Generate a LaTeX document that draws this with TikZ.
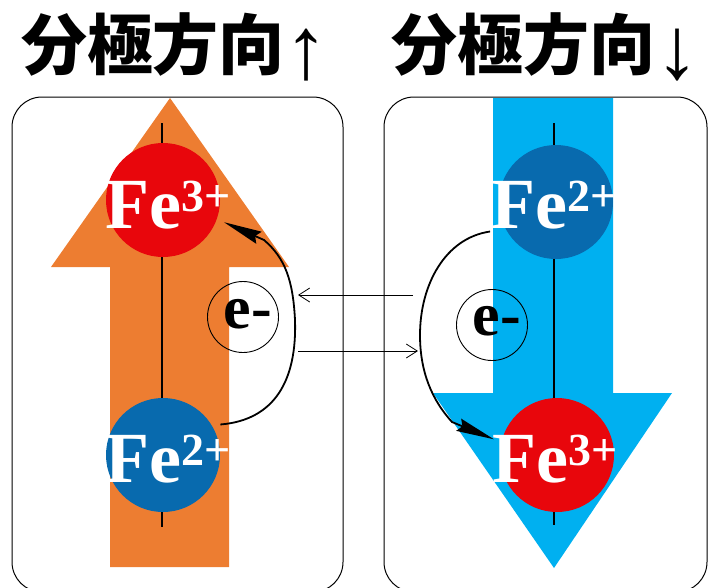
\documentclass[tikz,border=0pt]{standalone}
\usepackage{fontspec}
\setmainfont{Liberation Serif}
\newfontfamily\cjk{Noto Sans CJK JP}
\newfontfamily\arrowfont{Liberation Sans}
\usetikzlibrary{arrows.meta}
\definecolor{colUp}{RGB}{237,125,49}
\definecolor{colDown}{RGB}{0,176,240}
\definecolor{colFeIII}{RGB}{232,6,12}
\definecolor{colFeII}{RGB}{8,106,174}

\newcommand{\ionlbl}[1]{{\fontsize{72}{72}\selectfont Fe}\raisebox{17pt}{\fontsize{46}{46}\selectfont #1}}
\newcommand{\polarr}[1]{\raisebox{-9pt}{\arrowfont\mdseries\fontsize{88}{88}\selectfont #1}}

\begin{document}
\begin{tikzpicture}[x=1pt, y=1pt,
    every node/.style={inner sep=0pt},
    panel/.style={draw, line width=1pt, rounded corners=30pt},
    ball/.style={circle, minimum size=114pt, outer sep=8pt},
    ionlabel/.style={text=white, font=\bfseries, anchor=base},
    electron/.style={draw, circle, line width=0.9pt, minimum size=71pt},
    etext/.style={font=\bfseries\fontsize{62}{62}\selectfont, anchor=base},
    hop/.style={line width=1.8pt, -{Stealth[length=38pt,width=13pt,inset=4pt]}},
    flow/.style={line width=0.8pt, -{Straight Barb[length=11pt,width=14pt]}},
    axis/.style={line width=2.6pt}
]
    \useasboundingbox (0,0) rectangle (710,-587);

    % titles
    \node[font=\cjk\bfseries\fontsize{66}{66}\selectfont] (titleUp) at (175,-47) {分極方向\polarr{↑}};
    \node[font=\cjk\bfseries\fontsize{66}{66}\selectfont] (titleDown) at (545,-47) {分極方向\polarr{↓}};

    % panels
    \draw[panel] (12,-97) rectangle (343,-592);
    \draw[panel] (384,-97) rectangle (707,-592);

    % polarization arrows
    \fill[colUp] (110,-567) -- (110,-267) -- (51,-267) -- (170,-98) -- (289,-267) -- (229,-267) -- (229,-567) -- cycle;
    \fill[colDown] (493,-98) -- (493,-393) -- (433,-393) -- (554,-568) -- (672,-393) -- (613,-393) -- (613,-98) -- cycle;

    % axes
    \coordinate (axTopL) at (162,-123);
    \coordinate (axBotL) at (162,-527);
    \coordinate (axTopR) at (554,-123);
    \coordinate (axBotR) at (554,-525);
    \draw[axis] (axTopL) -- (axBotL);
    \draw[axis] (axTopR) -- (axBotR);

    % ions
    \node[ball, fill=colFeIII] (feIIIa) at (163,-200) {};
    \node[ball, fill=colFeII] (feIIa) at (163,-455) {};
    \node[ball, fill=colFeII] (feIIb) at (556,-202) {};
    \node[ball, fill=colFeIII] (feIIIb) at (557,-455) {};
    \node[ionlabel] (lblIIIa) at (168,-228) {\ionlbl{3+}};
    \node[ionlabel] (lblIIa) at (168.5,-482) {\ionlbl{2+}};
    \node[ionlabel] (lblIIb) at (554,-228) {\ionlbl{2+}};
    \node[ionlabel] (lblIIIb) at (555,-482) {\ionlbl{3+}};

    % electrons
    \node[electron] (eL) at (243,-317) {};
    \node[electron] (eR) at (492,-325) {};
    \node[etext] (eLtxt) at (248,-328) {e-};
    \node[etext] (eRtxt) at (497,-335) {e-};

    % electron hopping
    \draw[hop] (feIIa.28) .. controls (275,-420) and (297,-380) .. (295,-320)
        .. controls (293,-280) and (285,-258) .. (264,-240) -- (feIIIa.-20);
    \draw[hop] ([xshift=-8pt]feIIb.207) .. controls (445,-238) and (420,-285) .. (420,-335)
        .. controls (420,-372) and (432,-400) .. (452,-422) -- (feIIIb.166);

    % exchange between panels
    \coordinate (inR) at (413,-295);
    \coordinate (inL) at (298,-295);
    \coordinate (outL) at (298,-351);
    \coordinate (outR) at (418,-351);
    \draw[flow] (inR) -- (inL);
    \draw[flow] (outL) -- (outR);
\end{tikzpicture}
\end{document}
